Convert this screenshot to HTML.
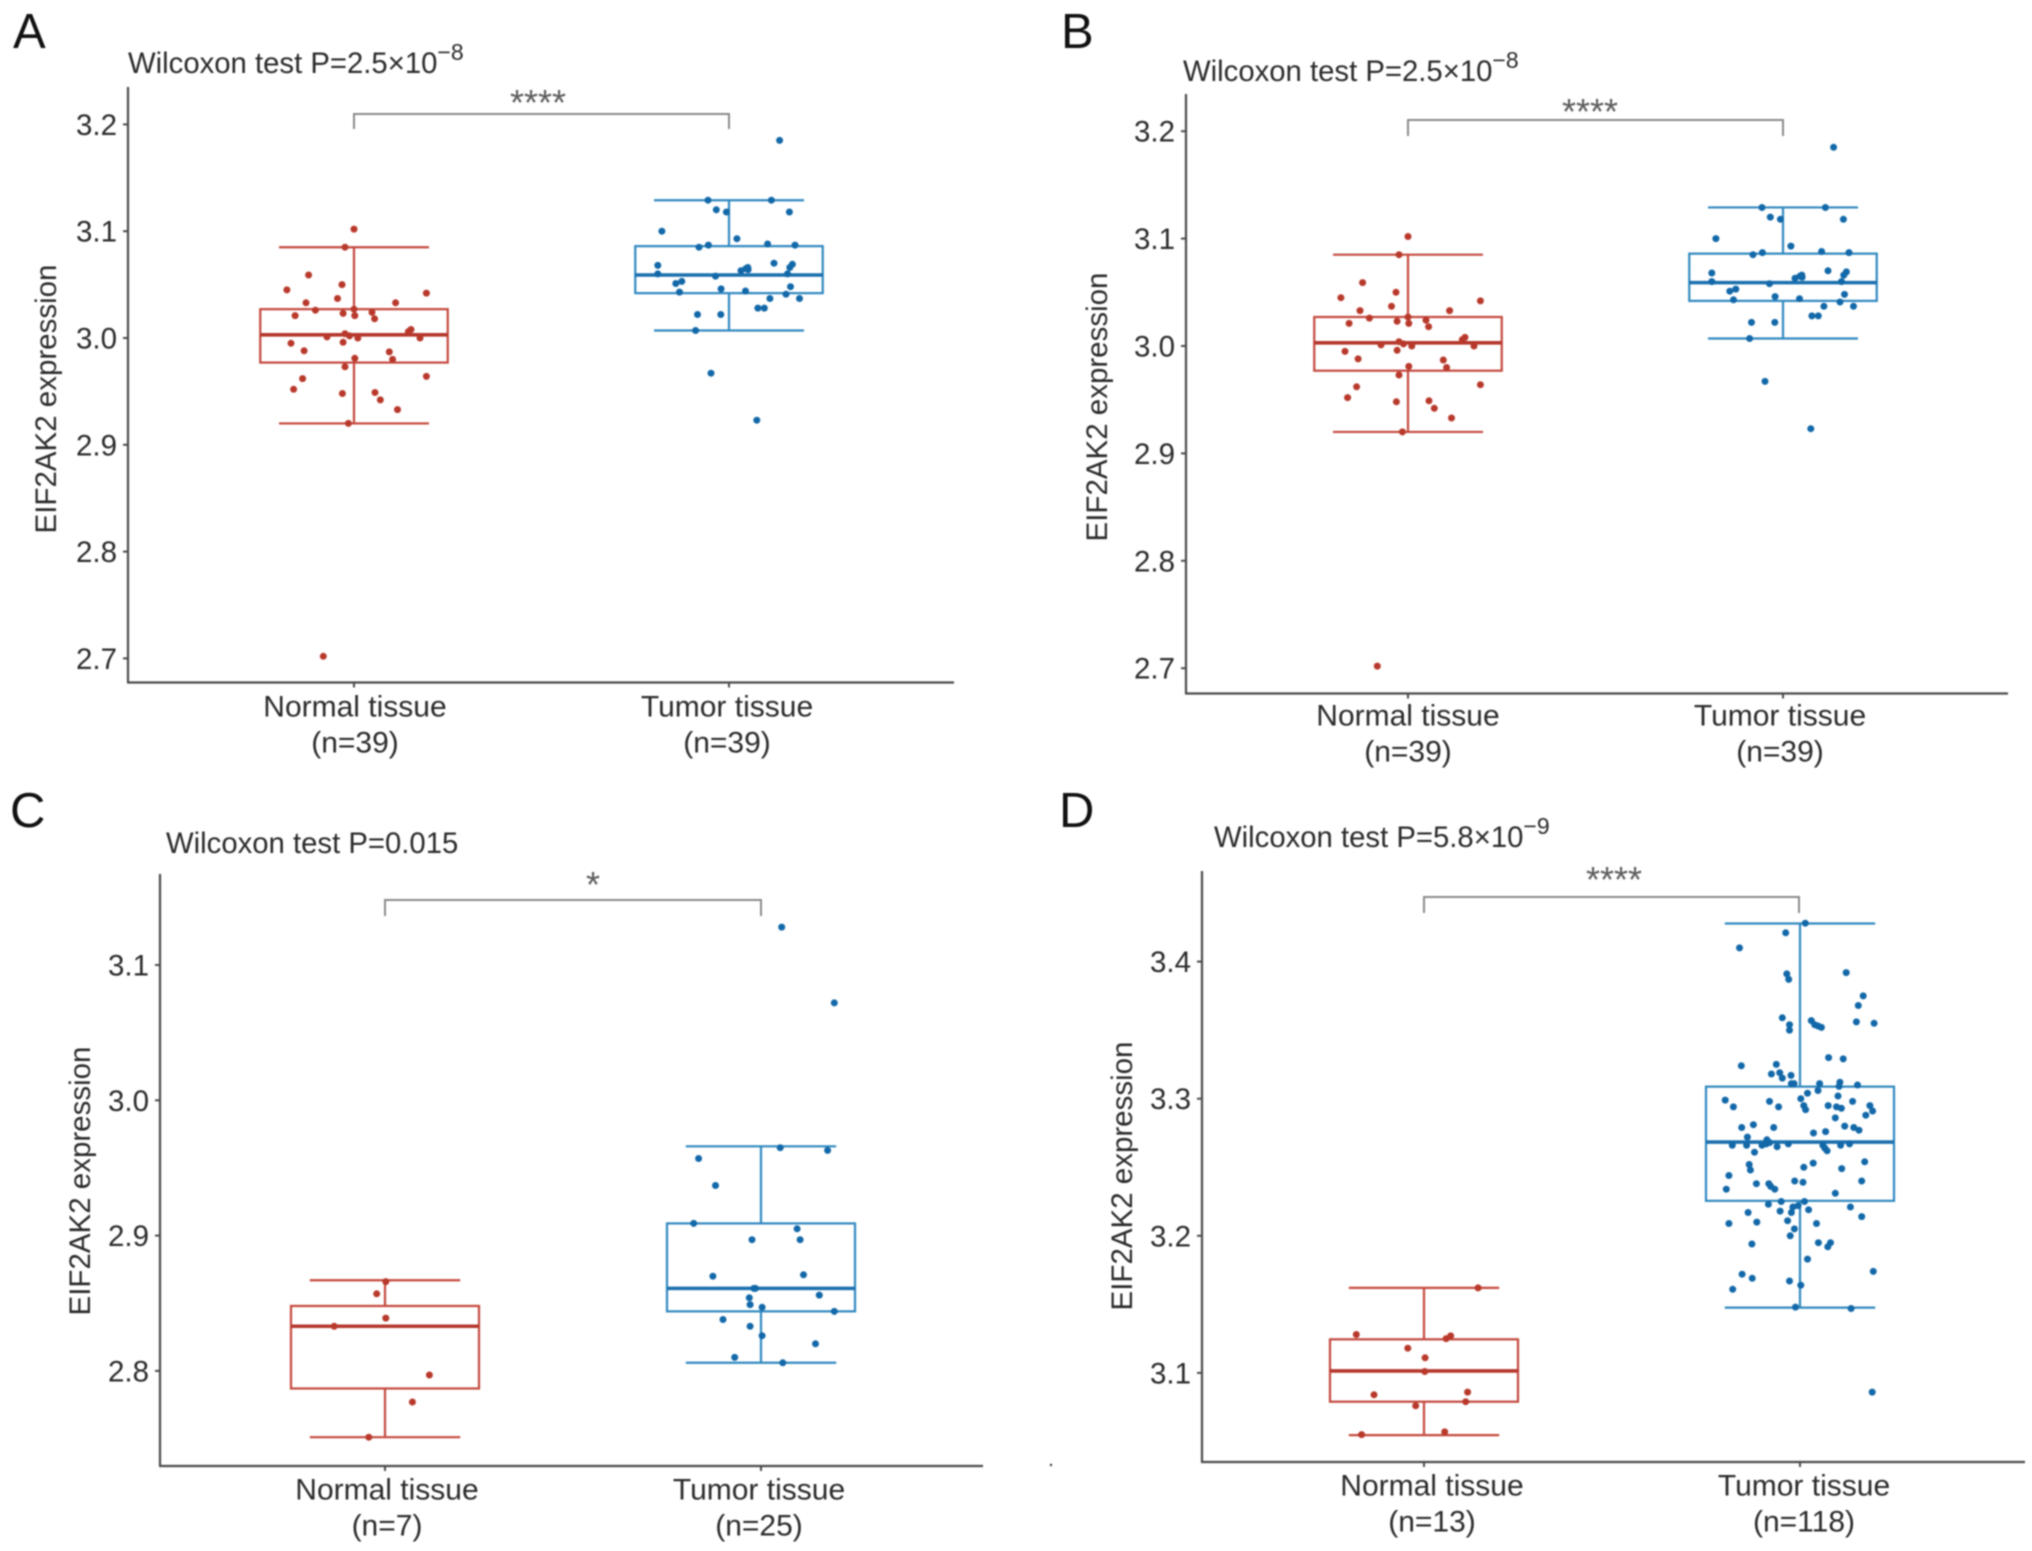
<!DOCTYPE html>
<html lang="en">
<head>
<meta charset="utf-8">
<title>EIF2AK2 expression in normal and tumor tissue</title>
<style>
html,body{margin:0;padding:0;background:#fff;width:2032px;height:1551px;overflow:hidden}
svg{display:block;filter:blur(.7px)}
text{font-family:"Liberation Sans",Arial,sans-serif;fill:#2b2b2b}
.tick{font-size:29.5px;text-anchor:end}
.cat{font-size:30px;text-anchor:middle}
.ytitle{font-size:29.5px;text-anchor:middle}
.title{font-size:29.3px}
.letter{font-size:49px;fill:#111}
.star{font-size:36px;text-anchor:middle;fill:#5c5c5c}
.bracket{fill:none;stroke:#8a8a8a;stroke-width:2}
</style>
</head>
<body>
<svg id="figure" xmlns="http://www.w3.org/2000/svg" width="2032" height="1551" viewBox="0 0 2032 1551">
<rect x="0" y="0" width="2032" height="1551" fill="#fff"/>

<g id="panel-a">
  <text class="letter" x="13" y="48">A</text>
  <text class="title" x="128" y="73">Wilcoxon test P=2.5×10<tspan dy="-13" font-size="23">−8</tspan></text>
  <text class="ytitle" transform="translate(56,399) rotate(-90)">EIF2AK2 expression</text>
  <text class="cat" x="355" y="716.5">Normal tissue</text>
  <text class="cat" x="355" y="752.5">(n=39)</text>
  <text class="cat" x="727" y="716.5">Tumor tissue</text>
  <text class="cat" x="727" y="752.5">(n=39)</text>
  <path class="bracket" d="M354 129V114H729V129"/>
  <text class="star" x="538" y="115">****</text>
</g>

<g id="panel-b">
  <text class="letter" x="1061" y="48">B</text>
  <text class="title" x="1183" y="81">Wilcoxon test P=2.5×10<tspan dy="-13" font-size="23">−8</tspan></text>
  <text class="ytitle" transform="translate(1107,407) rotate(-90)">EIF2AK2 expression</text>
  <text class="cat" x="1408" y="725.5">Normal tissue</text>
  <text class="cat" x="1408" y="761.5">(n=39)</text>
  <text class="cat" x="1780" y="725.5">Tumor tissue</text>
  <text class="cat" x="1780" y="761.5">(n=39)</text>
  <path class="bracket" d="M1408 136V120H1783V136"/>
  <text class="star" x="1590" y="124">****</text>
</g>

<g id="panel-c">
  <text class="letter" x="10" y="827">C</text>
  <text class="title" x="166" y="853">Wilcoxon test P=0.015</text>
  <text class="ytitle" transform="translate(90,1181) rotate(-90)">EIF2AK2 expression</text>
  <text class="cat" x="387" y="1499.5">Normal tissue</text>
  <text class="cat" x="387" y="1535.5">(n=7)</text>
  <text class="cat" x="759" y="1499.5">Tumor tissue</text>
  <text class="cat" x="759" y="1535.5">(n=25)</text>
  <path class="bracket" d="M385 916V900H761V916"/>
  <text class="star" x="593" y="897">*</text>
</g>

<g id="panel-d">
  <text class="letter" x="1059" y="827">D</text>
  <text class="title" x="1214" y="847">Wilcoxon test P=5.8×10<tspan dy="-13" font-size="23">−9</tspan></text>
  <text class="ytitle" transform="translate(1132,1176) rotate(-90)">EIF2AK2 expression</text>
  <text class="cat" x="1432" y="1495.5">Normal tissue</text>
  <text class="cat" x="1432" y="1531.5">(n=13)</text>
  <text class="cat" x="1804" y="1495.5">Tumor tissue</text>
  <text class="cat" x="1804" y="1531.5">(n=118)</text>
  <path class="bracket" d="M1424 913V897H1799V913"/>
  <text class="star" x="1614" y="892">****</text>
  <circle cx="1051" cy="1465" r="1.2" fill="#333"/>
</g>
</svg>

<script>
/* ---------- chart data: expression values and horizontal jitter (fraction of category spacing) ---------- */
const ticksAB = [2.7, 2.8, 2.9, 3.0, 3.1, 3.2];
const ticksC = [2.8, 2.9, 3.0, 3.1];
const ticksD = [3.1, 3.2, 3.3, 3.4];

/* box stats: [lower whisker, q1, median, q3, upper whisker] */
const normalStatsAB = [2.920, 2.977, 3.003, 3.027, 3.085];
const tumorStatsAB = [3.007, 3.042, 3.059, 3.086, 3.129];
const normalStatsC = [2.751, 2.787, 2.833, 2.848, 2.867];
const tumorStatsC = [2.806, 2.844, 2.861, 2.909, 2.966];
const normalStatsD = [3.0546, 3.079, 3.1014, 3.1245, 3.162];
const tumorStatsD = [3.1476, 3.2255, 3.2684, 3.3088, 3.4278];

const normalValuesAB = [3.102,3.085,3.059,3.050,3.045,3.042,3.037,3.033,3.033,3.026,3.027,3.023,3.024,3.021,3.021,3.018,3.008,3.006,3.004,3.001,3.002,3.000,3.000,2.996,2.995,2.988,2.987,2.981,2.980,2.973,2.964,2.962,2.952,2.949,2.948,2.942,2.933,2.920,2.702];
const normalJitterAB = [0,-0.024,-0.121,-0.032,-0.179,0.193,-0.044,-0.128,0.111,-0.103,0,-0.029,0.048,-0.157,0.002,0.055,0.152,0.145,-0.024,-0.072,-0.012,0.010,0.176,-0.029,-0.168,-0.133,0.094,0.002,0.103,-0.024,0.193,-0.137,-0.161,0.056,-0.031,0.070,0.116,-0.015,-0.082];
const tumorValuesAB = [3.185,3.129,3.129,3.120,3.118,3.118,3.100,3.093,3.085,3.087,3.088,3.087,3.068,3.070,3.069,3.066,3.066,3.063,3.064,3.060,3.060,3.058,3.053,3.051,3.048,3.046,3.044,3.043,3.041,3.037,3.037,3.028,3.028,3.022,3.022,3.007,2.967,2.923,3.065];
const tumorJitterAB = [0.135,-0.056,0.113,-0.034,-0.007,0.161,-0.179,0.021,-0.080,-0.055,0.103,0.176,-0.190,0.120,0.169,0.162,0.050,0.032,0.051,-0.190,0.156,-0.036,-0.126,-0.142,0.164,-0.021,0.044,-0.132,0.152,0.109,0.188,0.077,0.094,-0.084,-0.022,-0.089,-0.048,0.074,0.045];

const normalValuesC = [2.866,2.857,2.839,2.833,2.797,2.777,2.751];
const normalJitterC = [0.002,-0.022,0.002,-0.135,0.118,0.073,-0.043];
const tumorValuesC = [3.128,3.072,2.965,2.963,2.957,2.937,2.909,2.905,2.897,2.897,2.870,2.871,2.861,2.856,2.854,2.849,2.847,2.844,2.838,2.833,2.826,2.820,2.810,2.806,2.861];
const tumorJitterC = [0.055,0.195,0.051,0.177,-0.166,-0.121,-0.179,0.096,-0.024,0.104,-0.128,0.113,-0.019,0.155,-0.031,-0.029,0.003,0.195,-0.101,-0.029,0.003,0.145,-0.070,0.058,-0.015];

const normalValuesD = [3.162,3.128,3.127,3.125,3.118,3.111,3.101,3.086,3.084,3.079,3.076,3.057,3.055];
const normalJitterD = [0.144,-0.180,0.071,0.059,-0.043,0.003,0.002,0.116,-0.133,0.111,-0.022,0.055,-0.166];
const tumorValuesD = [3.428,3.421,3.410,3.392,3.391,3.387,3.375,3.368,3.359,3.354,3.350,3.357,3.354,3.353,3.352,3.356,3.355,3.330,3.329,3.324,3.325,3.318,3.319,3.315,3.317,3.311,3.311,3.311,3.306,3.312,3.309,3.310,3.304,3.302,3.300,3.299,3.298,3.298,3.294,3.294,3.295,3.292,3.295,3.294,3.293,3.295,3.291,3.288,3.286,3.281,3.279,3.279,3.280,3.279,3.277,3.275,3.276,3.272,3.270,3.266,3.266,3.266,3.267,3.268,3.265,3.267,3.266,3.264,3.262,3.266,3.267,3.261,3.252,3.248,3.253,3.250,3.249,3.254,3.244,3.240,3.239,3.240,3.238,3.238,3.234,3.236,3.234,3.231,3.225,3.225,3.223,3.222,3.221,3.221,3.219,3.218,3.217,3.217,3.214,3.211,3.210,3.209,3.209,3.205,3.200,3.194,3.195,3.195,3.192,3.183,3.174,3.172,3.169,3.167,3.164,3.161,3.148,3.147,3.086];
const tumorJitterD = [0.014,-0.038,-0.161,0.123,-0.035,-0.030,0.168,0.155,-0.047,-0.028,-0.028,0.030,0.039,0.048,0.057,0.150,0.197,0.076,0.115,-0.156,-0.063,-0.076,-0.054,-0.047,-0.024,-0.023,-0.016,0.052,0.048,0.106,0.104,0.153,0.020,0.101,0.002,-0.199,0.140,-0.081,-0.177,-0.057,0.010,0.015,0.075,0.097,0.110,0.186,0.193,0.175,0.094,-0.124,-0.070,-0.155,0.119,0.143,0.157,0.036,0.068,-0.140,-0.088,-0.180,-0.142,-0.101,-0.090,-0.081,-0.061,-0.031,0.061,0.066,0.072,0.108,0.132,-0.121,-0.135,-0.132,0.035,0.010,0.111,0.172,-0.189,-0.014,0.008,0.164,-0.116,-0.083,-0.196,-0.078,-0.067,0.094,-0.050,0.012,-0.084,-0.005,-0.019,0.134,0.023,-0.053,-0.023,-0.138,0.164,-0.033,-0.115,-0.189,0.044,-0.015,-0.026,-0.128,0.049,0.081,0.074,0.020,0.195,-0.154,-0.127,-0.028,0.002,-0.179,-0.012,0.136,0.192];

/* ---------- drawing ---------- */
const SVG_NS = 'http://www.w3.org/2000/svg';
const RED_LINE = '#c4483d', RED_DOT = '#b8392b', RED_MED = '#b5372c';
const BLUE_LINE = '#3088c0', BLUE_DOT = '#1268a8', BLUE_MED = '#1a6fae';

function node(tag, parent) {
  const el = document.createElementNS(SVG_NS, tag);
  parent.appendChild(el);
  return el;
}
function line(parent, x1, y1, x2, y2, stroke, width) {
  const el = node('line', parent);
  el.setAttribute('x1', x1);
  el.setAttribute('y1', y1);
  el.setAttribute('x2', x2);
  el.setAttribute('y2', y2);
  el.setAttribute('stroke', stroke);
  el.setAttribute('stroke-width', width);
  return el;
}

function drawBox(g, cx, spacing, yOf, stats, lineColor, medColor, label) {
  const [lo, q1, med, q3, hi] = stats;
  const hw = spacing * 0.25, cw = spacing * 0.2;
  const upper = line(g, cx, yOf(q3), cx, yOf(hi), lineColor, 2.2);
  
  
  const lower = line(g, cx, yOf(q1), cx, yOf(lo), lineColor, 2.2);
  
  
  const capHi = line(g, cx - cw, yOf(hi), cx + cw, yOf(hi), lineColor, 2.2);
  
  
  const capLo = line(g, cx - cw, yOf(lo), cx + cw, yOf(lo), lineColor, 2.2);
  
  
  const box = node('rect', g);
  
  
  box.setAttribute('x', cx - hw);
  box.setAttribute('y', yOf(q3));
  box.setAttribute('width', hw * 2);
  box.setAttribute('height', yOf(q1) - yOf(q3));
  box.setAttribute('fill', 'none');
  box.setAttribute('stroke', lineColor);
  box.setAttribute('stroke-width', 2.2);
  const m = line(g, cx - hw, yOf(med), cx + hw, yOf(med), medColor, 3.6);
  
  
}

function drawPoints(g, cx, spacing, yOf, values, jitter, color, label) {
  values.forEach(function (v, i) {
    const c = node('circle', g);
    
    
    c.setAttribute('cx', (cx + jitter[i] * spacing).toFixed(1));
    c.setAttribute('cy', yOf(v).toFixed(1));
    c.setAttribute('r', 3.5);
    c.setAttribute('fill', color);
  });
}

function drawPanel(id, frame, ticks, groups) {
  const g = document.getElementById(id);
  const yOf = function (v) { return frame.yRef + (frame.vRef - v) * frame.pxPerUnit; };
  const spacing = frame.xTumor - frame.xNormal;

  const yAxis = line(g, frame.left, frame.top, frame.left, frame.bottom, '#4a4a4a', 2.2);
  
  
  const xAxis = line(g, frame.left - 1, frame.bottom, frame.right, frame.bottom, '#4a4a4a', 2.2);
  
  

  ticks.forEach(function (t) {
    const mark = line(g, frame.left - 5, yOf(t), frame.left, yOf(t), '#4a4a4a', 2);
    
    
    const lab = node('text', g);
    
    
    lab.setAttribute('class', 'tick');
    lab.setAttribute('x', frame.left - 11);
    lab.setAttribute('y', yOf(t) + 10.5);
    lab.textContent = t.toFixed(1);
  });

  [frame.xNormal, frame.xTumor].forEach(function (x) {
    const mark = line(g, x, frame.bottom, x, frame.bottom + 5, '#4a4a4a', 2);
    
    
  });

  drawBox(g, frame.xNormal, spacing, yOf, groups.normalStats, RED_LINE, RED_MED, 'normal');
  drawBox(g, frame.xTumor, spacing, yOf, groups.tumorStats, BLUE_LINE, BLUE_MED, 'tumor');
  drawPoints(g, frame.xNormal, spacing, yOf, groups.normalValues, groups.normalJitter, RED_DOT, 'normal');
  drawPoints(g, frame.xTumor, spacing, yOf, groups.tumorValues, groups.tumorJitter, BLUE_DOT, 'tumor');
}

drawPanel('panel-a',
  {left: 128, right: 954, top: 87, bottom: 682.5, xNormal: 354, xTumor: 729, vRef: 3.0, yRef: 338, pxPerUnit: 1068},
  ticksAB,
  {normalStats: normalStatsAB, tumorStats: tumorStatsAB, normalValues: normalValuesAB, normalJitter: normalJitterAB, tumorValues: tumorValuesAB, tumorJitter: tumorJitterAB});

drawPanel('panel-b',
  {left: 1186, right: 2008, top: 94, bottom: 693.5, xNormal: 1408, xTumor: 1783, vRef: 3.0, yRef: 346, pxPerUnit: 1074},
  ticksAB,
  {normalStats: normalStatsAB, tumorStats: tumorStatsAB, normalValues: normalValuesAB, normalJitter: normalJitterAB, tumorValues: tumorValuesAB, tumorJitter: tumorJitterAB});

drawPanel('panel-c',
  {left: 160, right: 983, top: 874, bottom: 1466, xNormal: 385, xTumor: 761, vRef: 3.0, yRef: 1100.3, pxPerUnit: 1353},
  ticksC,
  {normalStats: normalStatsC, tumorStats: tumorStatsC, normalValues: normalValuesC, normalJitter: normalJitterC, tumorValues: tumorValuesC, tumorJitter: tumorJitterC});

drawPanel('panel-d',
  {left: 1202, right: 2025, top: 871, bottom: 1462, xNormal: 1424, xTumor: 1800, vRef: 3.2, yRef: 1235.8, pxPerUnit: 1371},
  ticksD,
  {normalStats: normalStatsD, tumorStats: tumorStatsD, normalValues: normalValuesD, normalJitter: normalJitterD, tumorValues: tumorValuesD, tumorJitter: tumorJitterD});
</script>
</body>
</html>
